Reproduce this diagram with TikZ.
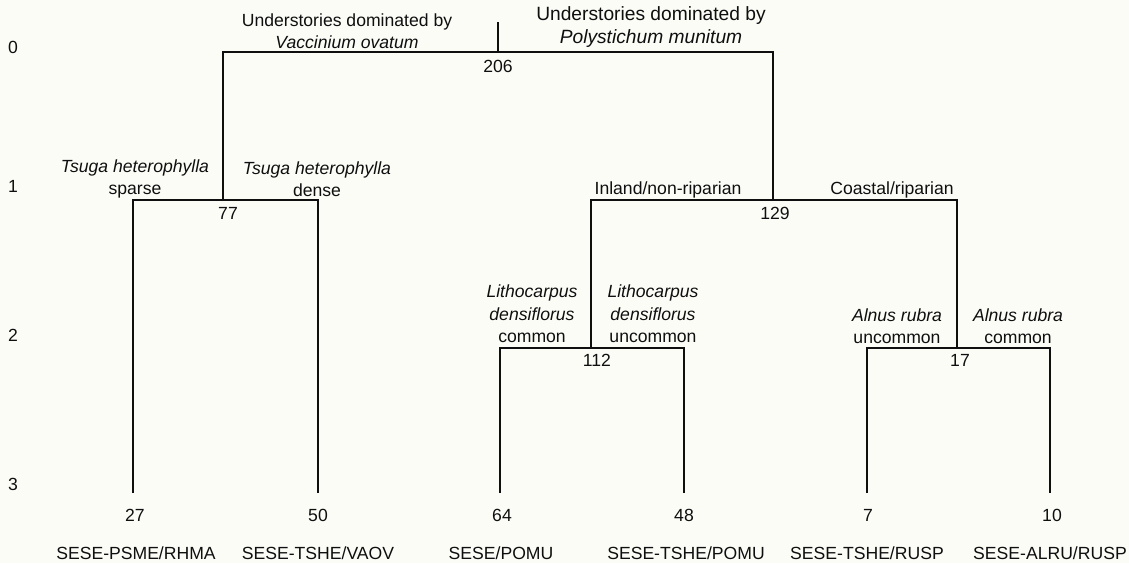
\documentclass[tikz,border=0pt]{standalone}
\usepackage{fontspec}
\setmainfont{Liberation Sans}
\definecolor{bgcol}{RGB}{252,252,247}
\definecolor{inkcol}{RGB}{15,15,15}
\begin{document}
\begin{tikzpicture}[x=1pt,y=-1pt,
  lbl/.style={inner sep=0pt,align=center,text=inkcol,font=\fontsize{17.6}{22.3}\selectfont},
  biglbl/.style={inner sep=0pt,align=center,text=inkcol,font=\fontsize{19.2}{23}\selectfont},
  branch/.style={draw=inkcol,line width=1.4pt}]
\fill[bgcol] (0,0) rectangle (1129,563);
\useasboundingbox (0,0) rectangle (1129,563);
% level labels
\node[lbl] (lev0) at (13,47) {0};
\node[lbl] (lev1) at (13,186) {1};
\node[lbl] (lev2) at (13,335) {2};
\node[lbl] (lev3) at (13,484) {3};
% branch points
\coordinate (rtop) at (498,22);
\coordinate (r) at (498,52);
\coordinate (a) at (223,200);
\coordinate (b) at (773,200);
\coordinate (c) at (591,348);
\coordinate (d) at (957,348);
\coordinate (l1) at (133,493);
\coordinate (l2) at (318,493);
\coordinate (l3) at (500,493);
\coordinate (l4) at (684,493);
\coordinate (l5) at (867,493);
\coordinate (l6) at (1050,493);
% connectors
\draw[branch] (rtop) -- (r);
\draw[branch] (a) |- (r);
\draw[branch] (b) |- (r);
\draw[branch] (l1) |- (a);
\draw[branch] (l2) |- (a);
\draw[branch] (c) |- (b);
\draw[branch] (d) |- (b);
\draw[branch] (l3) |- (c);
\draw[branch] (l4) |- (c);
\draw[branch] (l5) |- (d);
\draw[branch] (l6) |- (d);
% split labels
\node[lbl] (vac) at (347,31) {Understories dominated by\\\textit{Vaccinium ovatum}};
\node[biglbl] (pol) at (651,27) {Understories dominated by\\\textit{Polystichum munitum}};
\node[lbl] (tss) at (135,179) {\textit{Tsuga heterophylla}\\sparse};
\node[lbl] (tsd) at (317,179) {\textit{Tsuga heterophylla}\\dense};
\node[lbl] (inl) at (668,190) {Inland/non-riparian};
\node[lbl] (coa) at (892,190) {Coastal/riparian};
\node[lbl] (litc) at (532,314) {\textit{Lithocarpus}\\\textit{densiflorus}\\common};
\node[lbl] (litu) at (653,314) {\textit{Lithocarpus}\\\textit{densiflorus}\\uncommon};
\node[lbl] (alu) at (897,326) {\textit{Alnus rubra}\\uncommon};
\node[lbl] (alc) at (1018,326) {\textit{Alnus rubra}\\common};
% counts at branch points
\node[lbl] (n206) at (498,66) {206};
\node[lbl] (n77) at (228,213) {77};
\node[lbl] (n129) at (775,213) {129};
\node[lbl] (n112) at (597,360) {112};
\node[lbl] (n17) at (960,360) {17};
% leaf counts
\node[lbl] (c1) at (135,515) {27};
\node[lbl] (c2) at (318,515) {50};
\node[lbl] (c3) at (502,515) {64};
\node[lbl] (c4) at (684,515) {48};
\node[lbl] (c5) at (868,515) {7};
\node[lbl] (c6) at (1052,515) {10};
% leaf names
\node[lbl] (g1) at (136,553) {SESE-PSME/RHMA};
\node[lbl] (g2) at (318,553) {SESE-TSHE/VAOV};
\node[lbl] (g3) at (501,553) {SESE/POMU};
\node[lbl] (g4) at (686,553) {SESE-TSHE/POMU};
\node[lbl] (g5) at (867,553) {SESE-TSHE/RUSP};
\node[lbl] (g6) at (1050,553) {SESE-ALRU/RUSP};
\end{tikzpicture}
\end{document}
